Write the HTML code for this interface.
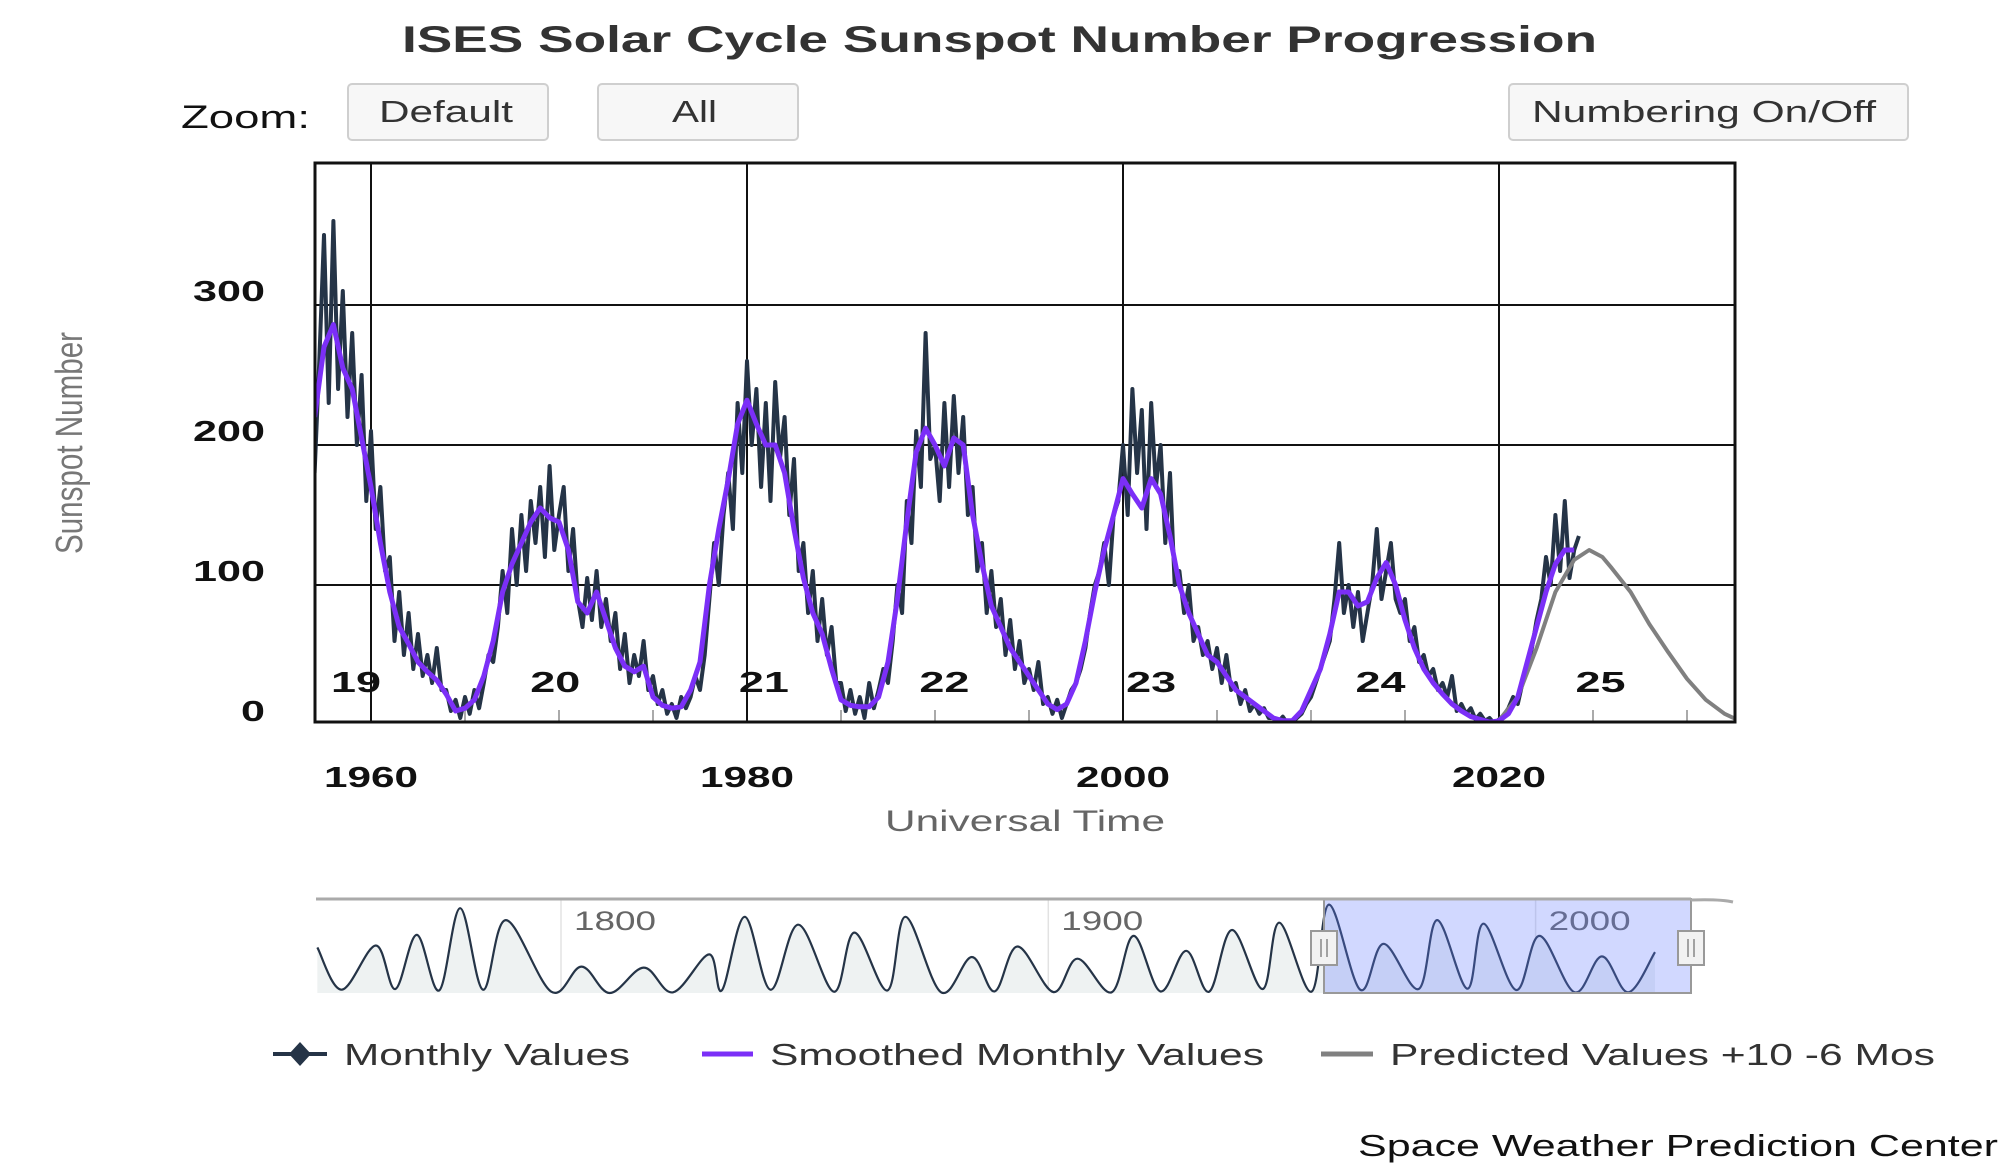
<!DOCTYPE html>
<html><head><meta charset="utf-8">
<style>
html,body{margin:0;padding:0;background:#fff;}
body{width:2000px;height:1167px;overflow:hidden;position:relative;font-family:"Liberation Sans",sans-serif;}
.btn{position:absolute;background:#f7f7f7;border:2px solid #cfcfcf;border-radius:5px;box-sizing:border-box;}
</style></head><body>
<div class="btn" style="left:347px;top:83px;width:202px;height:58px;"></div>
<div class="btn" style="left:597px;top:83px;width:202px;height:58px;"></div>
<div class="btn" style="left:1508px;top:83px;width:401px;height:58px;"></div>
<svg id="chart" width="2000" height="1167" style="position:absolute;left:0;top:0;" xmlns="http://www.w3.org/2000/svg">
<text x="402" y="52" textLength="1195" lengthAdjust="spacingAndGlyphs" font-family="Liberation Sans, sans-serif" font-weight="bold" font-size="37" fill="#333">ISES Solar Cycle Sunspot Number Progression</text>
<text x="181" y="128" textLength="129" lengthAdjust="spacingAndGlyphs" font-family="Liberation Sans, sans-serif" font-size="32" fill="#111">Zoom:</text>
<text x="379" y="122" textLength="134" lengthAdjust="spacingAndGlyphs" font-family="Liberation Sans, sans-serif" font-size="31" fill="#333">Default</text>
<text x="672" y="122" textLength="45" lengthAdjust="spacingAndGlyphs" font-family="Liberation Sans, sans-serif" font-size="31" fill="#333">All</text>
<text x="1532" y="122" textLength="344" lengthAdjust="spacingAndGlyphs" font-family="Liberation Sans, sans-serif" font-size="31" fill="#333">Numbering On/Off</text>
<defs><clipPath id="pc"><rect x="315" y="163" width="1420" height="559"/></clipPath></defs>
<g id="grid"></g>
<g id="series" clip-path="url(#pc)"></g>
<rect x="315" y="163" width="1420" height="559" fill="none" stroke="#111" stroke-width="3"/>
<g id="labels"></g>
<text transform="translate(82,554) rotate(-90)" textLength="222" lengthAdjust="spacingAndGlyphs" font-family="Liberation Sans, sans-serif" font-size="38" fill="#777">Sunspot Number</text>
<text x="885" y="831" textLength="280" lengthAdjust="spacingAndGlyphs" font-family="Liberation Sans, sans-serif" font-size="30" fill="#666">Universal Time</text>
<g id="nav"></g>
<g font-family="Liberation Sans, sans-serif" font-size="31" fill="#333">
 <g>
  <line x1="273" y1="1054" x2="327" y2="1054" stroke="#253447" stroke-width="4"/>
  <path d="M300 1042 L311 1054 L300 1066 L289 1054 Z" fill="#253447"/>
  <text x="344" y="1065" textLength="286" lengthAdjust="spacingAndGlyphs">Monthly Values</text></g>
 <g>
  <line x1="702" y1="1054" x2="753" y2="1054" stroke="#7b2ff7" stroke-width="5"/>
  <text x="770" y="1065" textLength="494" lengthAdjust="spacingAndGlyphs">Smoothed Monthly Values</text></g>
 <g>
  <line x1="1321" y1="1054" x2="1373" y2="1054" stroke="#808080" stroke-width="5"/>
  <text x="1390" y="1065" textLength="545" lengthAdjust="spacingAndGlyphs">Predicted Values +10 -6 Mos</text></g>
</g>
<text x="1358" y="1156" textLength="640" lengthAdjust="spacingAndGlyphs" font-family="Liberation Sans, sans-serif" font-size="31" fill="#111">Space Weather Prediction Center</text>
</svg>
<script>
// ---- data ----
const monthlyStart = 1957.0; // quarterly samples
const monthlyValues = [
180,260,350,230, 360,240,310,220, 280,200,250,160, 210,140,170,110, 120,60,95,50,
80,40,65,35, 50,30,55,25, 25,10,18,5, 20,8,25,12, 30,50,45,70,
110,80,140,100, 150,110,160,130, 170,120,185,125, 150,170,110,140, 90,70,105,75,
110,70,90,60, 80,40,65,30, 50,35,60,25, 35,15,25,8, 15,5,20,12,
20,35,25,50, 90,130,100,150, 180,140,230,180, 260,200,240,170, 230,160,245,190,
220,150,190,110, 130,80,110,60, 90,50,70,30, 30,10,25,8, 20,5,30,12,
25,40,30,60, 100,80,160,130, 210,170,280,190, 200,160,230,170, 235,180,220,150,
170,110,130,80, 110,70,90,50, 75,40,60,30, 40,25,45,15, 20,8,18,5,
15,25,30,40, 55,80,100,110, 130,100,150,160, 200,150,240,180, 225,140,230,170,
200,130,180,100, 110,80,100,60, 70,50,60,40, 55,30,50,25, 30,15,25,10,
15,8,12,5, 5,2,6,1, 2,5,8,15, 20,30,40,50, 60,90,130,80,
100,70,95,60, 80,100,140,90, 110,130,90,80, 90,60,70,45, 50,35,40,25,
30,20,35,10, 15,8,12,4, 8,3,5,1, 4,7,12,20, 15,30,40,55,
75,90,120,100, 150,110,160,105, 125,135
];
const smoothStart = 1957.0; // half-year samples
const smoothValues = [
220,270,286,255,240,205,170,130,95,70, 58,45,38,32,22,10,12,18,35,60,
95,115,130,145,155,148,145,125,88,80, 95,75,55,42,38,42,20,14,12,13,
25,45,100,140,175,215,232,215,200,200, 180,140,105,80,65,40,18,14,13,13,
20,45,90,145,195,212,200,185,205,200, 150,115,85,70,55,45,35,25,15,11,
15,30,60,95,125,150,176,165,155,176, 165,135,100,80,65,50,45,35,25,20,
15,10,5,3,3,10,25,40,65,95, 95,85,88,105,116,100,75,55,40,30,
22,15,10,6,4,2,3,8,20,45, 70,95,115,125,125
];
const predYears = [2019.8,2021,2022,2023,2024,2024.8,2025.5,2026,2027,2028,2029,2030,2031,2032,2032.8];
const predValues = [0,20,55,95,118,125,120,112,95,72,52,33,18,8,3];
const yTicks = [0,100,200,300];
const xTicks = [1960,1980,2000,2020];
const cycleLabels = ["19","20","21","22","23","24","25"];
const cycleYears = [1959.2,1969.8,1980.9,1990.5,2001.5,2013.7,2025.4];
const navYears = [1750,1755,1762,1766,1770.4,1775,1779.3,1784,1788.7,1798,1804.2,1810,1817,1823,1830.4,1833,1837.7,1843,1848.7,1856,1860.2,1867,1870.7,1878,1884.3,1889,1893.7,1901,1906,1913,1917.5,1923,1928.3,1933,1937.7,1944,1947.4,1954,1957.6,1964,1968.8,1976,1979.8,1986,1989.3,1996,2000.8,2008,2013.6,2019,2024.5];
const navValues = [138,10,144,12,176,8,257,10,221,4,80,0,77,2,117,8,231,10,207,4,183,8,231,2,109,5,141,3,104,2,173,5,128,4,191,12,213,4,268,10,149,12,221,13,210,9,173,2,111,2,124];
const navTicks = [1800,1900,2000];

// ---- scales ----
const X0=315, X1=1735, Y0=725, PER=1.40;
const xs = y => 371 + (y-1960)*18.8;
const yv = v => Y0 - v*PER;
const NS='http://www.w3.org/2000/svg';
function mk(tag, attrs, parent){const e=document.createElementNS(NS,tag);for(const k in attrs)e.setAttribute(k,attrs[k]);parent.appendChild(e);return e;}
const gridG=document.getElementById('grid'), seriesG=document.getElementById('series'), labelsG=document.getElementById('labels'), navG=document.getElementById('nav');

yTicks.forEach(t=>{
  if(t>0){const l=mk('line',{x1:X0,x2:X1,y1:yv(t),y2:yv(t),stroke:'#111','stroke-width':2},gridG);
  
  }
  const s=String(t);
  const w=s.length*24;
  const tx=mk('text',{x:265-w,y:yv(t)-4,textLength:w,lengthAdjust:'spacingAndGlyphs','font-family':'Liberation Sans, sans-serif','font-weight':'bold','font-size':29,fill:'#111'},labelsG);
  tx.textContent=s;
  
  
});
xTicks.forEach(t=>{
  const l=mk('line',{x1:xs(t),x2:xs(t),y1:163,y2:722,stroke:'#111','stroke-width':2},gridG);
  
  
  const tx=mk('text',{x:xs(t)-47,y:787,textLength:94,lengthAdjust:'spacingAndGlyphs','font-family':'Liberation Sans, sans-serif','font-weight':'bold','font-size':29,fill:'#111'},labelsG);
  tx.textContent=t;
  
  
});
for(let t=1965;t<=2030;t+=5){
  if(t%20===0)continue;
  const l=mk('line',{x1:xs(t),x2:xs(t),y1:710,y2:722,stroke:'#aaa','stroke-width':2},gridG);
  
  
}
function pathFrom(xf, vs){return vs.map((v,i)=>(i?'L':'M')+xs(xf(i)).toFixed(1)+' '+yv(v).toFixed(1)).join(' ');}
const pm=mk('path',{d:pathFrom(i=>monthlyStart+i*0.25,monthlyValues),fill:'none',stroke:'#253447','stroke-width':4,'stroke-linejoin':'round'},seriesG);


const pp=mk('path',{d:pathFrom(i=>predYears[i],predValues),fill:'none',stroke:'#808080','stroke-width':4,'stroke-linejoin':'round'},seriesG);


const ps=mk('path',{d:pathFrom(i=>smoothStart+i*0.5,smoothValues),fill:'none',stroke:'#7b2ff7','stroke-width':5,'stroke-linejoin':'round'},seriesG);


cycleLabels.forEach((c,i)=>{
  const tx=mk('text',{x:xs(cycleYears[i])-25,y:692,textLength:50,lengthAdjust:'spacingAndGlyphs','font-family':'Liberation Sans, sans-serif','font-weight':'bold','font-size':29,fill:'#111'},labelsG);
  tx.textContent=c;
  
  
});

// ---- navigator ----
const nx = y => 561 + (y-1800)*4.873;
const ny = v => 993 - v*0.33;
navTicks.forEach(t=>{
  const l=mk('line',{x1:nx(t),x2:nx(t),y1:899,y2:993,stroke:'#e2e2e2','stroke-width':1.5},navG);
  
  
});
let d='M'+nx(navYears[0])+' '+ny(navValues[0]);
for(let i=0;i<navYears.length-1;i++){
  const a=Math.max(i-1,0), b=Math.min(i+2,navYears.length-1);
  const p0=[nx(navYears[a]),ny(navValues[a])];
  const p1=[nx(navYears[i]),ny(navValues[i])];
  const p2=[nx(navYears[i+1]),ny(navValues[i+1])];
  const p3=[nx(navYears[b]),ny(navValues[b])];
  const k=0.17;
  d+=' C'+(p1[0]+(p2[0]-p0[0])*k).toFixed(1)+' '+(p1[1]+(p2[1]-p0[1])*k).toFixed(1)+' '+(p2[0]-(p3[0]-p1[0])*k).toFixed(1)+' '+(p2[1]-(p3[1]-p1[1])*k).toFixed(1)+' '+p2[0].toFixed(1)+' '+p2[1].toFixed(1);
}
const area=mk('path',{d:d+' L'+nx(navYears[navYears.length-1])+' 993 L'+nx(navYears[0])+' 993 Z',fill:'#eef2f2'},navG);


const nl=mk('path',{d:d,fill:'none',stroke:'#253447','stroke-width':2.2},navG);


navTicks.forEach(t=>{
  const tx=mk('text',{x:nx(t)+13,y:930,textLength:82,lengthAdjust:'spacingAndGlyphs','font-family':'Liberation Sans, sans-serif','font-size':27,fill:'#666'},navG);
  tx.textContent=t;
  
  
});
const sel=mk('rect',{x:1324,y:899,width:367,height:94,fill:'rgba(102,125,255,0.3)',stroke:'#999','stroke-width':2},navG);


const outline=mk('path',{d:'M316 899 L1691 899 M1691 900 Q1720 899 1733 902',fill:'none',stroke:'#aaa','stroke-width':3},navG);


[1324,1691].forEach(hx=>{
  const g=mk('g',{},navG);
  
  
  mk('rect',{x:hx-13,y:931,width:26,height:34,fill:'#f2f2f2',stroke:'#999','stroke-width':2},g);
  mk('line',{x1:hx-3,x2:hx-3,y1:939,y2:957,stroke:'#888','stroke-width':1.5},g);
  mk('line',{x1:hx+3,x2:hx+3,y1:939,y2:957,stroke:'#888','stroke-width':1.5},g);
});
</script>
</body></html>
